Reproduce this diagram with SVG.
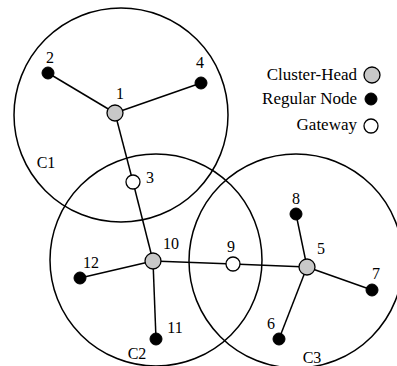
<svg xmlns="http://www.w3.org/2000/svg" width="397" height="366" viewBox="0 0 397 366">
<style>
.cl{fill:none;stroke:#000;stroke-width:1.5}
.e{stroke:#000;stroke-width:1.5}
.ch{fill:#c8c8c8;stroke:#000;stroke-width:1.3}
.rn{fill:#000;stroke:#000;stroke-width:1}
.gw{fill:#fff;stroke:#000;stroke-width:1.3}
text{font-size:16px;fill:#000}
.lg{font-size:17px;text-anchor:end}
.m{text-anchor:middle}
</style>
<rect width="397" height="366" fill="#fff"/>
<g font-family="'Liberation Serif', 'Times New Roman', serif">
<g id="clusters">
<circle class="cl" cx="121" cy="115" r="107"/>
<circle class="cl" cx="156" cy="260" r="106"/>
<circle class="cl" cx="296" cy="261" r="107"/>
<text class="m" x="46" y="168">C1</text>
<text class="m" x="137" y="359">C2</text>
<text class="m" x="312" y="363">C3</text>
</g>
<g id="connectors">
<line class="e" x1="115" y1="113" x2="48" y2="73"/>
<line class="e" x1="115" y1="113" x2="201" y2="83"/>
<line class="e" x1="115" y1="113" x2="133" y2="182"/>
<line class="e" x1="133" y1="182" x2="153" y2="261"/>
<line class="e" x1="153" y1="261" x2="80" y2="278"/>
<line class="e" x1="153" y1="261" x2="156" y2="339"/>
<line class="e" x1="153" y1="261" x2="233" y2="264"/>
<line class="e" x1="233" y1="264" x2="307" y2="267"/>
<line class="e" x1="307" y1="267" x2="296" y2="214"/>
<line class="e" x1="307" y1="267" x2="372" y2="290"/>
<line class="e" x1="307" y1="267" x2="279" y2="339"/>
</g>
<g id="n1"><circle class="ch" cx="115" cy="113" r="8"/><text class="m" x="120" y="99">1</text></g>
<g id="n2"><circle class="rn" cx="48" cy="73" r="6"/><text class="m" x="50" y="63">2</text></g>
<g id="n3"><circle class="gw" cx="133" cy="182" r="7"/><text class="m" x="150" y="183">3</text></g>
<g id="n4"><circle class="rn" cx="201" cy="83" r="6"/><text class="m" x="200" y="68">4</text></g>
<g id="n5"><circle class="ch" cx="307" cy="267" r="8"/><text class="m" x="321" y="254">5</text></g>
<g id="n6"><circle class="rn" cx="279" cy="339" r="6"/><text class="m" x="271" y="329">6</text></g>
<g id="n7"><circle class="rn" cx="372" cy="290" r="6"/><text class="m" x="376" y="279">7</text></g>
<g id="n8"><circle class="rn" cx="296" cy="214" r="6"/><text class="m" x="296" y="204">8</text></g>
<g id="n9"><circle class="gw" cx="233" cy="264" r="7"/><text class="m" x="231" y="252">9</text></g>
<g id="n10"><circle class="ch" cx="153" cy="261" r="8"/><text class="m" x="171" y="249">10</text></g>
<g id="n11"><circle class="rn" cx="156" cy="339" r="6"/><text class="m" x="175" y="333">11</text></g>
<g id="n12"><circle class="rn" cx="80" cy="278" r="6"/><text class="m" x="91" y="268">12</text></g>
<g id="legend">
<text class="lg" x="357" y="80">Cluster-Head</text>
<circle class="ch" cx="372" cy="75" r="8"/>
<text class="lg" x="357" y="104">Regular Node</text>
<circle class="rn" cx="371" cy="99" r="6"/>
<text class="lg" x="357" y="130">Gateway</text>
<circle class="gw" cx="371" cy="126" r="7"/>
</g>
</g>
</svg>
